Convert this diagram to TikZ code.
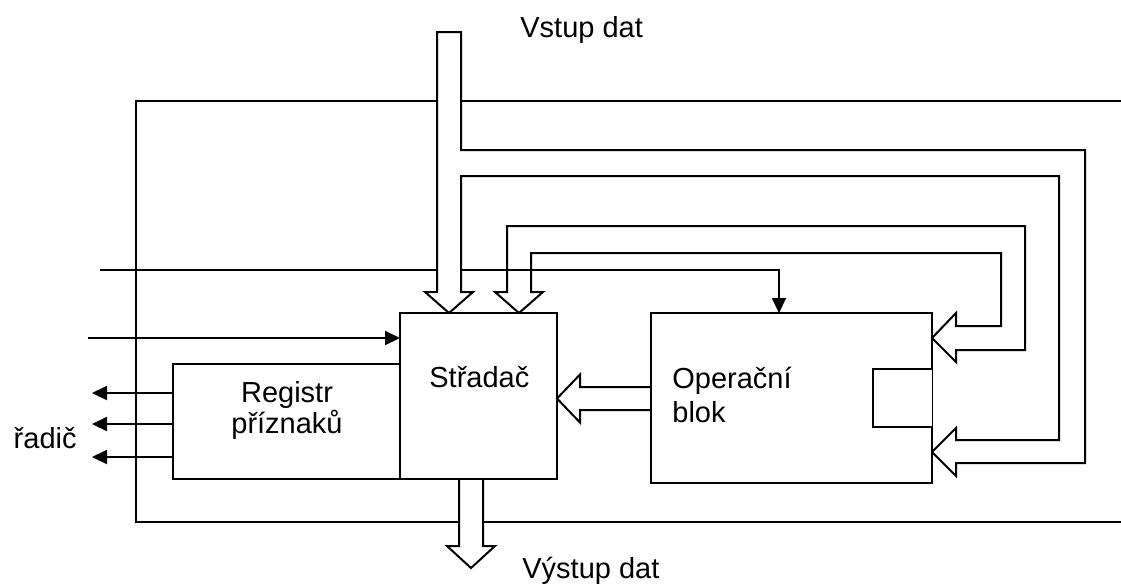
\documentclass[tikz,border=0pt]{standalone}
\usepackage{fontspec}
\setmainfont{Liberation Sans}
\usetikzlibrary{arrows.meta}
\begin{document}
\begin{tikzpicture}[x=0.5pt,y=-0.5pt,
  line/.style={line width=1pt,line join=miter},
  box/.style={draw,line width=1pt,inner sep=0pt,outer sep=0pt},
  ghost/.style={inner sep=0pt,outer sep=0pt},
  lbl/.style={inner sep=0pt,font=\fontsize{14.5}{17}\selectfont},
  sig/.style={line width=1pt,-{Triangle[length=7.5pt,width=7pt]}},
  bus/.style={line width=1pt,line join=miter}]
\useasboundingbox (0,0) rectangle (1121,586);

% boxes (geometry)
\node[box,minimum width=78.5pt,minimum height=83pt] (stradac) at (478.5,396) {};
\node[box,minimum width=113.5pt,minimum height=57.5pt] (registr) at (286.5,421.5) {};
\node[ghost,minimum width=140.5pt,minimum height=85pt] (opblok) at (791.5,398) {};

% frame
\coordinate (fa) at (1121,101);
\coordinate (fb) at (1121,522);
\draw[line] (fa) -- (136,101) -- (136,522) -- (fb);

% control lines
\coordinate (c1) at (100,270);
\coordinate (optop) at (779,313);
\draw[sig] (c1) -| (optop);
\coordinate (c2) at (88,338);
\draw[sig] (c2) -- (c2 -| stradac.west);

% flag outputs
\coordinate (o1) at (92,393);
\coordinate (o2) at (92,424);
\coordinate (o3) at (92,457);
\draw[sig] (o1 -| registr.west) -- (o1);
\draw[sig] (o2 -| registr.west) -- (o2);
\draw[sig] (o3 -| registr.west) -- (o3);

% inner feedback bus (to Stradac and upper input of Operacni blok)
\coordinate (in2) at (519,313);
\coordinate (opin1) at (932,338);
\draw[bus] (in2) -- (543,292) -- (531,292) -- (531,253) -- (1001,253) -- (1001,326)
  -- (956,326) -- (956,313) -- (opin1) -- (956,362) -- (956,350) -- (1025,350)
  -- (1025,226) -- (507,226) -- (507,292) -- (495,292) -- cycle;

% data input bus with branch to lower input of Operacni blok
\coordinate (in1) at (449,313);
\coordinate (opin2) at (932,452);
\filldraw[bus,fill=white] (in1) -- (473,292) -- (461,292) -- (461,176) -- (1059,176)
  -- (1059,440) -- (956,440) -- (956,428) -- (opin2) -- (956,476) -- (956,463)
  -- (1085,463) -- (1085,150) -- (461,150) -- (461,32) -- (437,32) -- (437,292)
  -- (425,292) -- cycle;

% data output bus
\coordinate (out) at (471,568);
\filldraw[bus,fill=white] (459,479) -- (459,546) -- (447,546) -- (out) -- (495,546)
  -- (483,546) -- (483,479);

% Operacni blok -> Stradac
\coordinate (st) at (557,398.5);
\draw[bus] (651,387) -- (580,387) -- (580,374.5) -- (st) -- (580,422.5) -- (580,410) -- (651,410);

% Operacni blok outline with notch
\draw[line] (932,369) -- (opblok.north east) -- (opblok.north west) -- (opblok.south west)
  -- (opblok.south east) -- (932,427) -- (873,427) -- (873,369) -- (932,369);
\draw[line width=0.4pt] (932,369) -- (932,427);

% redraw box borders on top
\draw[line] (stradac.north west) rectangle (stradac.south east);
\draw[line] (registr.north west) rectangle (registr.south east);

% texts
\node[lbl,anchor=base west] (tin) at (520,37) {Vstup dat};
\node[lbl,anchor=base west] (tout) at (522,578) {Výstup dat};
\node[lbl,anchor=base west] (tst) at (429,387) {Střadač};
\node[lbl,anchor=base west] (top1) at (672,388) {Operační};
\node[lbl,anchor=base west] (top2) at (672,422) {blok};
\node[lbl,anchor=base] (treg1) at (287,402) {Registr};
\node[lbl,anchor=base] (treg2) at (287,433) {příznaků};
\node[lbl,anchor=base east] (tradic) at (77,448) {řadič};
\end{tikzpicture}
\end{document}
